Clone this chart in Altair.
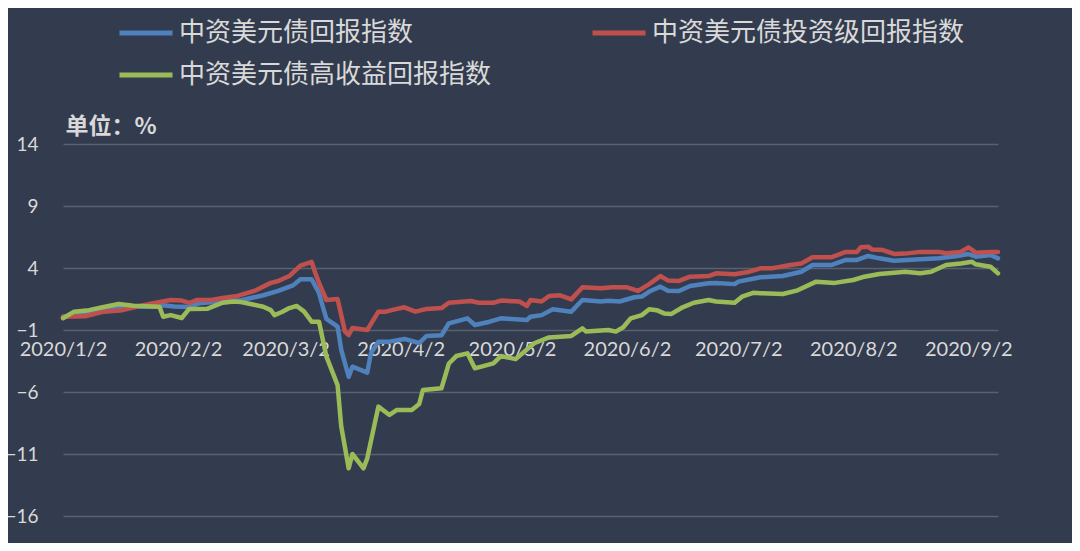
import altair as alt
import pandas as pd

NAME_B = "中资美元债回报指数"
NAME_R = "中资美元债投资级回报指数"
NAME_G = "中资美元债高收益回报指数"

blue_dates = ["2020-01-02", "2020-01-09", "2020-01-17", "2020-01-23", "2020-01-28", "2020-01-29",
              "2020-02-01", "2020-02-05", "2020-02-08", "2020-02-14", "2020-02-19", "2020-02-25",
              "2020-02-29", "2020-03-04", "2020-03-06", "2020-03-09", "2020-03-11", "2020-03-12",
              "2020-03-13", "2020-03-16", "2020-03-17", "2020-03-19", "2020-03-20", "2020-03-24",
              "2020-03-25", "2020-03-27", "2020-03-30", "2020-04-03", "2020-04-07", "2020-04-09",
              "2020-04-13", "2020-04-15", "2020-04-20", "2020-04-22", "2020-04-26", "2020-04-29",
              "2020-05-06", "2020-05-07", "2020-05-10", "2020-05-13", "2020-05-18", "2020-05-21",
              "2020-05-26", "2020-05-28", "2020-05-31", "2020-06-04", "2020-06-06", "2020-06-08",
              "2020-06-11", "2020-06-13", "2020-06-16", "2020-06-19", "2020-06-24", "2020-06-26",
              "2020-07-01", "2020-07-02", "2020-07-08", "2020-07-14", "2020-07-19", "2020-07-22",
              "2020-07-27", "2020-07-31", "2020-08-03", "2020-08-06", "2020-08-09", "2020-08-13",
              "2020-08-20", "2020-08-25", "2020-08-30", "2020-09-02", "2020-09-04", "2020-09-08",
              "2020-09-10"]
blue_vals = [0.07, 0.4, 0.8, 0.9, 0.88, 1.0,
             0.9, 0.85, 1.18, 1.3, 1.4, 1.8,
             2.15, 2.6, 3.1, 3.1, 2.0, 0.9,
             -0.1, -0.73, -2.6, -4.77, -3.96, -4.44,
             -2.87, -1.94, -1.94, -1.72, -2.05, -1.48,
             -1.43, -0.46, -0.06, -0.6, -0.33, -0.06,
             -0.2, 0.07, 0.2, 0.67, 0.48, 1.42,
             1.3, 1.36, 1.3, 1.64, 1.7, 2.1,
             2.5, 2.17, 2.15, 2.55, 2.77, 2.8,
             2.7, 2.9, 3.25, 3.35, 3.7, 4.24,
             4.24, 4.65, 4.65, 4.97, 4.78, 4.59,
             4.7, 4.78, 4.97, 5.13, 4.91, 5.05,
             4.78]

red_dates = ["2020-01-02", "2020-01-08", "2020-01-13", "2020-01-18", "2020-01-23", "2020-01-27",
             "2020-01-31", "2020-02-03", "2020-02-05", "2020-02-07", "2020-02-11", "2020-02-14",
             "2020-02-18", "2020-02-23", "2020-02-27", "2020-02-29", "2020-03-03", "2020-03-06",
             "2020-03-09", "2020-03-10", "2020-03-11", "2020-03-13", "2020-03-16", "2020-03-18",
             "2020-03-19", "2020-03-20", "2020-03-24", "2020-03-27", "2020-03-29", "2020-04-01",
             "2020-04-03", "2020-04-06", "2020-04-09", "2020-04-13", "2020-04-15", "2020-04-21",
             "2020-04-23", "2020-04-27", "2020-04-29", "2020-05-04", "2020-05-06", "2020-05-07",
             "2020-05-10", "2020-05-12", "2020-05-15", "2020-05-18", "2020-05-21", "2020-05-26",
             "2020-05-29", "2020-06-02", "2020-06-05", "2020-06-08", "2020-06-11", "2020-06-13",
             "2020-06-16", "2020-06-19", "2020-06-24", "2020-06-26", "2020-07-01", "2020-07-05",
             "2020-07-08", "2020-07-11", "2020-07-16", "2020-07-19", "2020-07-22", "2020-07-27",
             "2020-07-31", "2020-08-03", "2020-08-04", "2020-08-06", "2020-08-07", "2020-08-10",
             "2020-08-13", "2020-08-16", "2020-08-20", "2020-08-25", "2020-08-27", "2020-08-31",
             "2020-09-02", "2020-09-04", "2020-09-08", "2020-09-10"]
red_vals = [0.07, 0.1, 0.48, 0.6, 0.95, 1.2,
            1.42, 1.37, 1.18, 1.42, 1.42, 1.58,
            1.75, 2.2, 2.8, 2.95, 3.35, 4.2,
            4.5, 3.6, 2.8, 1.42, 1.5, -1.13,
            -1.4, -0.84, -1.0, 0.48, 0.48, 0.7,
            0.83, 0.48, 0.7, 0.77, 1.2, 1.34,
            1.2, 1.2, 1.37, 1.3, 0.94, 1.42,
            1.3, 1.74, 1.8, 1.47, 2.44, 2.37,
            2.44, 2.44, 2.15, 2.7, 3.35, 3.0,
            2.96, 3.3, 3.35, 3.57, 3.5, 3.7,
            3.97, 3.97, 4.24, 4.37, 4.86, 4.86,
            5.3, 5.3, 5.67, 5.72, 5.5, 5.45,
            5.13, 5.16, 5.3, 5.3, 5.19, 5.3,
            5.67, 5.24, 5.3, 5.3]

green_dates = ["2020-01-02", "2020-01-05", "2020-01-09", "2020-01-13", "2020-01-17", "2020-01-21",
               "2020-01-28", "2020-01-29", "2020-01-31", "2020-02-03", "2020-02-05", "2020-02-10",
               "2020-02-14", "2020-02-17", "2020-02-19", "2020-02-25", "2020-02-27", "2020-02-28",
               "2020-03-01", "2020-03-03", "2020-03-05", "2020-03-07", "2020-03-09", "2020-03-11",
               "2020-03-13", "2020-03-16", "2020-03-17", "2020-03-19", "2020-03-20", "2020-03-23",
               "2020-03-24", "2020-03-27", "2020-03-30", "2020-04-01", "2020-04-05", "2020-04-07",
               "2020-04-08", "2020-04-13", "2020-04-15", "2020-04-17", "2020-04-20", "2020-04-22",
               "2020-04-27", "2020-04-29", "2020-05-03", "2020-05-08", "2020-05-12", "2020-05-18",
               "2020-05-21", "2020-05-22", "2020-05-28", "2020-05-30", "2020-06-01", "2020-06-03",
               "2020-06-06", "2020-06-08", "2020-06-10", "2020-06-12", "2020-06-14", "2020-06-17",
               "2020-06-20", "2020-06-24", "2020-06-26", "2020-07-01", "2020-07-03", "2020-07-06",
               "2020-07-08", "2020-07-14", "2020-07-18", "2020-07-23", "2020-07-28", "2020-08-02",
               "2020-08-05", "2020-08-09", "2020-08-13", "2020-08-16", "2020-08-20", "2020-08-23",
               "2020-08-27", "2020-08-31", "2020-09-03", "2020-09-04", "2020-09-08", "2020-09-10"]
green_vals = [-0.05, 0.48, 0.6, 0.85, 1.1, 0.96,
              0.88, 0.07, 0.2, -0.03, 0.7, 0.72,
              1.2, 1.3, 1.25, 0.88, 0.6, 0.2,
              0.45, 0.77, 0.94, 0.48, -0.33, -0.33,
              -3.15, -5.44, -8.8, -12.15, -11.0, -12.15,
              -11.35, -7.18, -7.85, -7.45, -7.45, -6.97,
              -5.84, -5.7, -3.7, -3.1, -2.88, -4.09,
              -3.69, -3.1, -3.35, -2.07, -1.6, -1.48,
              -0.87, -1.13, -1.0, -1.13, -0.78, -0.06,
              0.2, 0.67, 0.6, 0.34, 0.3, 0.83,
              1.2, 1.42, 1.3, 1.2, 1.69, 2.0,
              1.97, 1.9, 2.2, 2.9, 2.8, 3.03,
              3.3, 3.52, 3.62, 3.7, 3.57, 3.7,
              4.24, 4.37, 4.5, 4.3, 4.1, 3.57]

series_names = [NAME_B, NAME_R, NAME_G]
series_colors = ["#4F81BD", "#C0504D", "#9BBB59"]
tick_months = [1, 2, 3, 4, 5, 6, 7, 8, 9]
y_ticks = [14, 9, 4, -1, -6, -11, -16]

frames = []
for name, d, v in [(NAME_B, blue_dates, blue_vals),
                   (NAME_R, red_dates, red_vals),
                   (NAME_G, green_dates, green_vals)]:
    frames.append(pd.DataFrame({"date": pd.to_datetime(d), "value": v, "series": name}))
df = pd.concat(frames, ignore_index=True)

TXT = "#D9D9D9"
BG = "#333C4E"

x_vals = [alt.DateTime(year=2020, month=m, date=2) for m in tick_months]

chart = alt.Chart(df).mark_line(strokeWidth=4.5, strokeJoin="round", strokeCap="round").encode(
    x=alt.X(
        "date:T",
        scale=alt.Scale(domain=[alt.DateTime(year=2020, month=1, date=2),
                                alt.DateTime(year=2020, month=9, date=10)], nice=False),
        axis=alt.Axis(values=x_vals, format="%Y/%-m/%-d", title=None, grid=False,
                      domain=False, ticks=False, labelFont="Lato", labelFontSize=20,
                      labelColor=TXT, labelPadding=9, labelFlush=False,
                      labelOverlap=False, offset=-186),
    ),
    y=alt.Y(
        "value:Q",
        scale=alt.Scale(domain=[-16, 14], nice=False, zero=False),
        axis=alt.Axis(values=y_ticks, title="单位：%", titleAngle=0, titleX=2, titleY=-11,
                      titleAlign="left", titleBaseline="alphabetic",
                      titleFont="Noto Sans CJK SC", titleFontSize=23, titleFontWeight="bold",
                      titleColor=TXT, labelFont="Lato", labelFontSize=19, labelColor=TXT,
                      labelPadding=25, ticks=False, domain=False,
                      gridColor="#596070", gridWidth=1.5),
    ),
    color=alt.Color(
        "series:N",
        scale=alt.Scale(domain=series_names, range=series_colors),
        legend=alt.Legend(title=None, orient="none", legendX=54, legendY=-140,
                          direction="horizontal", columns=2, columnPadding=90,
                          rowPadding=-14, padding=0, labelFont="Noto Sans CJK SC",
                          labelFontSize=26, labelColor=TXT, labelOffset=4,
                          labelLimit=500, symbolType="stroke", symbolSize=2809,
                          symbolStrokeWidth=5),
    ),
).properties(
    width=935, height=372,
    padding={"left": 55, "top": 136, "right": 74, "bottom": 27},
    autosize=alt.AutoSizeParams(type="none"),
    background=BG,
).configure_view(stroke=None)

chart.save("out.html", embed_options={"renderer": "svg", "actions": False})
